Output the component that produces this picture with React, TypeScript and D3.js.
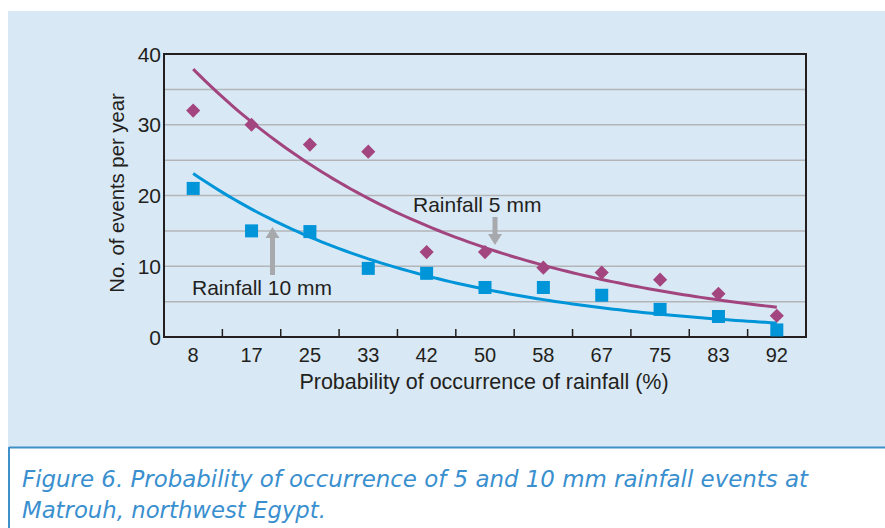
import React, { useRef, useEffect } from "react";
import * as d3 from "d3";

const categories = ["8", "17", "25", "33", "42", "50", "58", "67", "75", "83", "92"];
const rain5mm = [32, 30, 27.2, 26.2, 12, 12, 9.8, 9.1, 8.1, 6.1, 3];
const rain10mm = [21, 15, 14.9, 9.7, 9, 7, 7, 5.9, 3.9, 2.9, 1];
const yTicks = [0, 10, 20, 30, 40];
const gridLines = [5, 10, 15, 20, 25, 30, 35];

const width = 885;
const height = 528;
const plot = { left: 164, right: 806, top: 54, bottom: 337 };

// exponential trendline (Excel style, x = 1..n)
function expFit(values: number[]) {
  const n = values.length;
  const xs = values.map((_, i) => i + 1);
  const ly = values.map((v) => Math.log(v));
  const mx = d3.mean(xs)!;
  const my = d3.mean(ly)!;
  let sxy = 0;
  let sxx = 0;
  for (let i = 0; i < n; i++) {
    sxy += (xs[i] - mx) * (ly[i] - my);
    sxx += (xs[i] - mx) * (xs[i] - mx);
  }
  const b = sxy / sxx;
  const a = my - b * mx;
  return (x: number) => Math.exp(a + b * x);
}

const App: React.FC = () => {
  const svgRef = useRef<SVGSVGElement | null>(null);

  useEffect(() => {
    if (!svgRef.current) return;
    const svg = d3.select(svgRef.current);
    svg.selectAll("*").remove();

    const font = "'Liberation Sans', Arial, sans-serif";
    const ink = "#231f20";

    // panel backgrounds
    svg.append("rect").attr("x", 8).attr("y", 11).attr("width", width - 8).attr("height", 436).attr("fill", "#d9e8f5");
    svg.append("rect").attr("x", 9).attr("y", 447).attr("width", width - 9).attr("height", 90).attr("fill", "#ffffff");
    svg.append("line").attr("x1", 9).attr("x2", width).attr("y1", 447.5).attr("y2", 447.5).attr("stroke", "#3f90c8").attr("stroke-width", 2);
    svg.append("line").attr("x1", 9).attr("x2", 9).attr("y1", 447).attr("y2", height).attr("stroke", "#3f90c8").attr("stroke-width", 2);

    const x = d3.scaleBand<string>().domain(categories).range([plot.left, plot.right]).padding(0);
    const y = d3.scaleLinear().domain([0, 40]).range([plot.bottom, plot.top]);
    const cx = (c: string) => x(c)! + x.bandwidth() / 2;

    // grid
    svg.append("g")
      .selectAll("line")
      .data(gridLines)
      .join("line")
      .attr("x1", plot.left)
      .attr("x2", plot.right)
      .attr("y1", (d) => y(d))
      .attr("y2", (d) => y(d))
      .attr("stroke", "#b3b6b9")
      .attr("stroke-width", 1.5);

    // frame
    svg.append("rect")
      .attr("x", plot.left)
      .attr("y", plot.top)
      .attr("width", plot.right - plot.left)
      .attr("height", plot.bottom - plot.top)
      .attr("fill", "none")
      .attr("stroke", ink)
      .attr("stroke-width", 2);

    // x ticks between categories (inward)
    svg.append("g")
      .selectAll("line")
      .data(categories.slice(1))
      .join("line")
      .attr("x1", (d) => x(d)!)
      .attr("x2", (d) => x(d)!)
      .attr("y1", plot.bottom)
      .attr("y2", plot.bottom - 8)
      .attr("stroke", ink)
      .attr("stroke-width", 1.5);

    svg.append("g")
      .selectAll("text")
      .data(categories)
      .join("text")
      .attr("x", (d) => cx(d))
      .attr("y", 362)
      .attr("text-anchor", "middle")
      .attr("font-family", font)
      .attr("font-size", 20)
      .attr("fill", ink)
      .text((d) => d);

    svg.append("g")
      .selectAll("text")
      .data(yTicks)
      .join("text")
      .attr("x", plot.left - 3)
      .attr("y", (d) => y(d) + 7.5)
      .attr("text-anchor", "end")
      .attr("font-family", font)
      .attr("font-size", 21)
      .attr("fill", ink)
      .text((d) => d);

    svg.append("text")
      .attr("x", 484)
      .attr("y", 389)
      .attr("text-anchor", "middle")
      .attr("font-family", font)
      .attr("font-size", 21.5)
      .attr("fill", ink)
      .text("Probability of occurrence of rainfall (%)");

    svg.append("text")
      .attr("transform", "translate(124,193) rotate(-90)")
      .attr("text-anchor", "middle")
      .attr("font-family", font)
      .attr("font-size", 20.3)
      .attr("fill", ink)
      .text("No. of events per year");

    // trendlines
    const curve = (vals: number[], color: string) => {
      const f = expFit(vals);
      const pts: [number, number][] = d3.range(1, vals.length + 0.001, 0.1).map((t) => {
        const px = plot.left + x.bandwidth() * (t - 0.5);
        return [px, y(f(t))];
      });
      svg.append("path")
        .attr("d", d3.line()(pts))
        .attr("fill", "none")
        .attr("stroke", color)
        .attr("stroke-width", 3);
    };
    curve(rain5mm, "#a2457f");
    curve(rain10mm, "#0095d9");

    // markers
    svg.append("g")
      .selectAll("rect")
      .data(rain5mm)
      .join("rect")
      .attr("x", -5)
      .attr("y", -5)
      .attr("width", 10)
      .attr("height", 10)
      .attr("transform", (d, i) => `translate(${cx(categories[i])},${y(d)}) rotate(45)`)
      .attr("fill", "#a3457f");

    svg.append("g")
      .selectAll("rect")
      .data(rain10mm)
      .join("rect")
      .attr("x", (d, i) => cx(categories[i]) - 6.5)
      .attr("y", (d) => y(d) - 6.5)
      .attr("width", 13)
      .attr("height", 13)
      .attr("fill", "#0094d8");

    // annotations
    const arrow = (ax: number, y0: number, y1: number) => {
      const dir = y1 > y0 ? 1 : -1;
      const head = 11;
      svg.append("line")
        .attr("x1", ax)
        .attr("x2", ax)
        .attr("y1", y0)
        .attr("y2", y1 - dir * head)
        .attr("stroke", "#a7a9ac")
        .attr("stroke-width", 5);
      svg.append("path")
        .attr("d", `M${ax - 7},${y1 - dir * head} L${ax + 7},${y1 - dir * head} L${ax},${y1} Z`)
        .attr("fill", "#a7a9ac");
    };
    arrow(495, 217, 245);
    arrow(272.5, 275, 227);

    svg.append("text")
      .attr("x", 413)
      .attr("y", 212)
      .attr("font-family", font)
      .attr("font-size", 21)
      .attr("fill", ink)
      .text("Rainfall 5 mm");
    svg.append("text")
      .attr("x", 192)
      .attr("y", 295)
      .attr("font-family", font)
      .attr("font-size", 21)
      .attr("fill", ink)
      .text("Rainfall 10 mm");

    // caption
    const cap = svg.append("text")
      .attr("font-family", "'DejaVu Sans', sans-serif")
      .attr("font-style", "italic")
      .attr("font-size", 23)
      .attr("fill", "#3a8fcf");
    cap.append("tspan").attr("x", 22).attr("y", 487)
      .attr("textLength", 786).attr("lengthAdjust", "spacingAndGlyphs")
      .text("Figure 6. Probability of occurrence of 5 and 10 mm rainfall events at");
    cap.append("tspan").attr("x", 22).attr("y", 518)
      .attr("textLength", 304).attr("lengthAdjust", "spacingAndGlyphs")
      .text("Matrouh, northwest Egypt.");
  }, []);

  return (
    <svg
      ref={svgRef}
      width={width}
      height={height}
      style={{ position: "absolute", left: 0, top: 0, background: "#ffffff" }}
    />
  );
};

export default App;
